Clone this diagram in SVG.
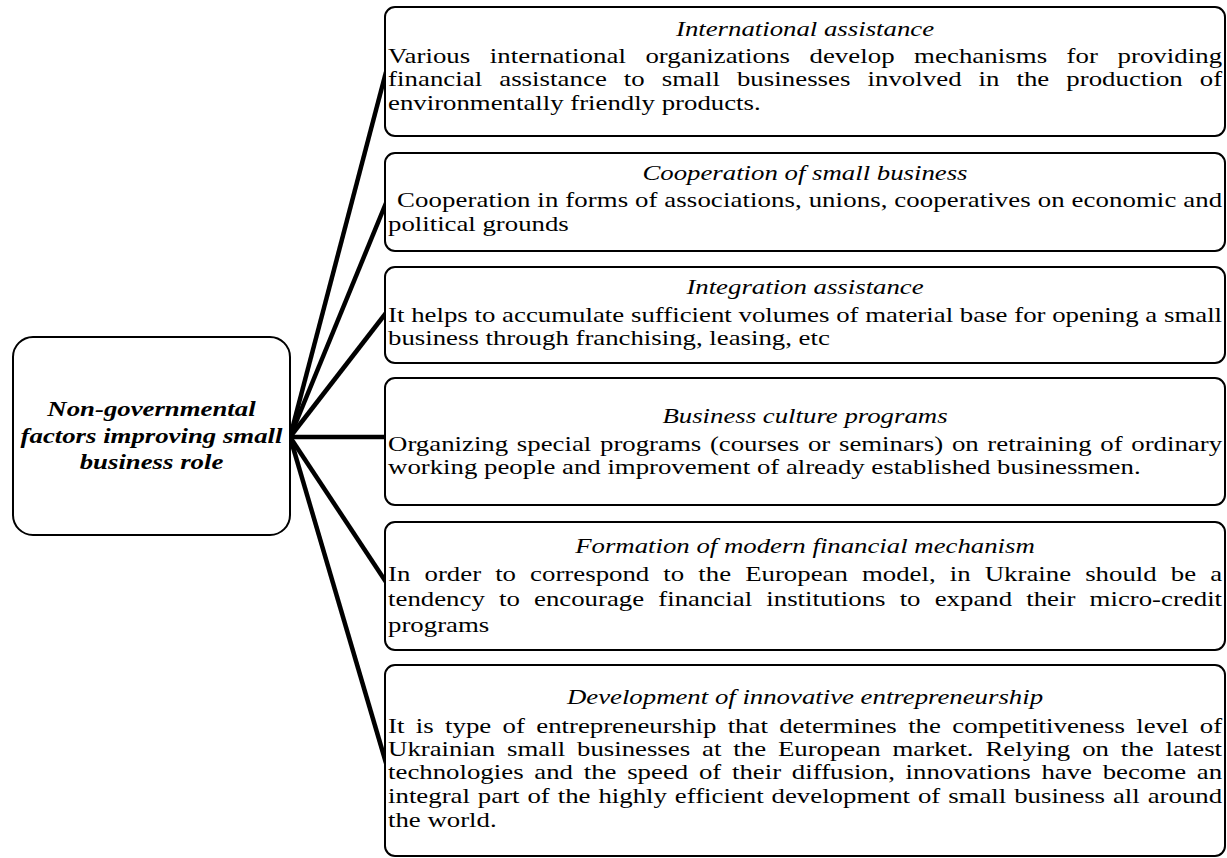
<svg xmlns="http://www.w3.org/2000/svg" width="1227" height="858" viewBox="0 0 1227 858">
<style>
.box{fill:#fff;stroke:#000;stroke-width:2}
.conn{stroke:#000;stroke-width:4.5;fill:none;stroke-linecap:butt}
.t{font-family:"Liberation Serif","Times New Roman",serif;font-size:20px;fill:#000}
.ti{font-style:italic}
.tb{font-style:italic;font-weight:bold}
.c{text-anchor:middle}
</style>
<rect width="1227" height="858" fill="#fff"/>
<g id="connectors">
<line class="conn" x1="290" y1="437" x2="386" y2="72"/>
<line class="conn" x1="290" y1="437" x2="386" y2="203"/>
<line class="conn" x1="290" y1="437" x2="386" y2="313"/>
<line class="conn" x1="290" y1="437" x2="386" y2="437"/>
<line class="conn" x1="290" y1="437" x2="386" y2="582"/>
<line class="conn" x1="290" y1="437" x2="386" y2="763"/>
</g>
<g id="root">
<rect class="box" x="13" y="337" width="277" height="198" rx="20"/>
<g transform="scale(1.34,1)">
<text class="t tb c" x="113.06" y="416">Non-governmental</text>
<text class="t tb c" x="113.06" y="443">factors improving small</text>
<text class="t tb c" x="113.06" y="469">business role</text>
</g>
</g>
<g id="n1">
<rect class="box" x="385" y="7" width="840" height="129" rx="10"/>
<g transform="scale(1.34,1)">
<text class="t ti c" x="600.75" y="36">International assistance</text>
<text class="t" x="289.6" y="63" word-spacing="9.5" textLength="622.4" lengthAdjust="spacing">Various international organizations develop mechanisms for providing</text>
<text class="t" x="289.6" y="86.5" word-spacing="7.6" textLength="622.4" lengthAdjust="spacing">financial assistance to small businesses involved in the production of</text>
<text class="t" x="289.6" y="110">environmentally friendly products.</text>
</g>
</g>
<g id="n2">
<rect class="box" x="385" y="153" width="840" height="98" rx="10"/>
<g transform="scale(1.34,1)">
<text class="t ti c" x="600.75" y="180">Cooperation of small business</text>
<text class="t" x="296.3" y="207" textLength="615.7" lengthAdjust="spacing">Cooperation in forms of associations, unions, cooperatives on economic and</text>
<text class="t" x="289.6" y="231">political grounds</text>
</g>
</g>
<g id="n3">
<rect class="box" x="385" y="267" width="840" height="96" rx="10"/>
<g transform="scale(1.34,1)">
<text class="t ti c" x="600.75" y="294">Integration assistance</text>
<text class="t" x="289.6" y="322" textLength="622.4" lengthAdjust="spacing">It helps to accumulate sufficient volumes of material base for opening a small</text>
<text class="t" x="289.6" y="345.5">business through franchising, leasing, etc</text>
</g>
</g>
<g id="n4">
<rect class="box" x="385" y="378" width="840" height="127" rx="10"/>
<g transform="scale(1.34,1)">
<text class="t ti c" x="600.75" y="423">Business culture programs</text>
<text class="t" x="289.6" y="451" word-spacing="1.5" textLength="622.4" lengthAdjust="spacing">Organizing special programs (courses or seminars) on retraining of ordinary</text>
<text class="t" x="289.6" y="474">working people and improvement of already established businessmen.</text>
</g>
</g>
<g id="n5">
<rect class="box" x="385" y="522" width="840" height="128" rx="10"/>
<g transform="scale(1.34,1)">
<text class="t ti c" x="600.75" y="553">Formation of modern financial mechanism</text>
<text class="t" x="289.6" y="581" word-spacing="5.5" textLength="622.4" lengthAdjust="spacing">In order to correspond to the European model, in Ukraine should be a</text>
<text class="t" x="289.6" y="606" word-spacing="5.6" textLength="622.4" lengthAdjust="spacing">tendency to encourage financial institutions to expand their micro-credit</text>
<text class="t" x="289.6" y="632">programs</text>
</g>
</g>
<g id="n6">
<rect class="box" x="385" y="665" width="840" height="191" rx="10"/>
<g transform="scale(1.34,1)">
<text class="t ti c" x="600.75" y="704">Development of innovative entrepreneurship</text>
<text class="t" x="289.6" y="733" word-spacing="3.5" textLength="622.4" lengthAdjust="spacing">It is type of entrepreneurship that determines the competitiveness level of</text>
<text class="t" x="289.6" y="756" word-spacing="3.9" textLength="622.4" lengthAdjust="spacing">Ukrainian small businesses at the European market. Relying on the latest</text>
<text class="t" x="289.6" y="779.5" word-spacing="3" textLength="622.4" lengthAdjust="spacing">technologies and the speed of their diffusion, innovations have become an</text>
<text class="t" x="289.6" y="803" word-spacing="0.9" textLength="622.4" lengthAdjust="spacing">integral part of the highly efficient development of small business all around</text>
<text class="t" x="289.6" y="827">the world.</text>
</g>
</g>
</svg>
